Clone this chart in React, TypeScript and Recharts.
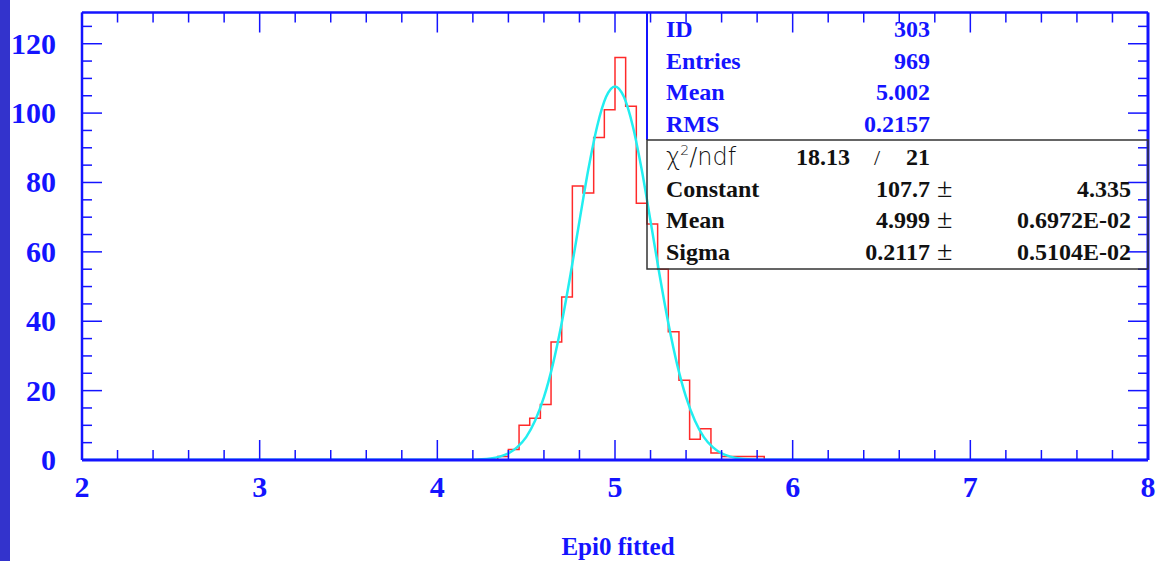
import React from "react";
import { ComposedChart, Line, XAxis, YAxis } from "recharts";

// axis ticks
const xTicks = [
  2, 2.2, 2.4, 2.6, 2.8, 3, 3.2, 3.4, 3.6, 3.8, 4, 4.2, 4.4, 4.6, 4.8, 5,
  5.2, 5.4, 5.6, 5.8, 6, 6.2, 6.4, 6.6, 6.8, 7, 7.2, 7.4, 7.6, 7.8, 8,
];
const yTicks = [
  0, 5, 10, 15, 20, 25, 30, 35, 40, 45, 50, 55, 60, 65, 70, 75, 80, 85, 90,
  95, 100, 105, 110, 115, 120, 125,
];
const yLabels = [0, 20, 40, 60, 80, 100, 120];

// histogram: lower bin edges (last entry is the upper edge of the last bin)
const binEdges = [
  4.34, 4.4, 4.46, 4.52, 4.58, 4.64, 4.7, 4.76, 4.82, 4.88, 4.94, 5.0, 5.06,
  5.12, 5.18, 5.24, 5.3, 5.36, 5.42, 5.48, 5.54, 5.6, 5.66, 5.72, 5.78, 5.84,
];
const binCounts = [
  1, 3, 10, 12, 16, 34, 47, 79, 77, 93, 101, 116, 102, 74, 68, 55, 37, 23, 6,
  9, 2, 1, 1, 1, 1,
];

// gaussian fit curve
const fitX = [
  2, 4.2, 4.25, 4.3, 4.35, 4.4, 4.45, 4.5, 4.55, 4.6, 4.65, 4.7, 4.75, 4.8,
  4.85, 4.9, 4.95, 5.0, 5.05, 5.1, 5.15, 5.2, 5.25, 5.3, 5.35, 5.4, 5.45, 5.5,
  5.55, 5.6, 5.65, 5.7, 5.75, 5.8, 8,
];
const fitY = [
  0, 0.1, 0.2, 0.46, 0.97, 1.9, 3.7, 6.6, 11.3, 18.1, 27.5, 39.5, 53.6, 68.9,
  83.8, 96.3, 104.7, 107.7, 104.7, 96.3, 83.8, 68.9, 53.6, 39.5, 27.5, 18.1,
  11.3, 6.6, 3.7, 1.9, 0.97, 0.46, 0.2, 0.1, 0,
];

// stats box
const statNames = ["ID", "Entries", "Mean", "RMS"];
const statValues = ["303", "969", "5.002", "0.2157"];
const chiNdf = ["18.13", "21"];
const fitNames = ["Constant", "Mean", "Sigma"];
const fitValues = ["107.7", "4.999", "0.2117"];
const fitErrors = ["4.335", "0.6972E-02", "0.5104E-02"];

const histData = binEdges.map((x, i) => ({ x, count: i < binCounts.length ? binCounts[i] : 0 }));
histData.unshift({ x: 2, count: 0 });
histData.push({ x: 8, count: 0 });
const fitData = fitX.map((x, i) => ({ x, y: fitY[i] }));

const BLUE = "#1414ff";
const SERIF = "'Liberation Serif', 'Times New Roman', serif";

function BottomTick({ x, y, payload }: any) {
  const major = Number.isInteger(payload.value);
  return (
    <g>
      <line x1={x} x2={x} y1={y} y2={y - (major ? 20 : 10)} stroke={BLUE} strokeWidth={1.5} />
      {major && (
        <text x={x} y={y + 37} textAnchor="middle" fill={BLUE} fontFamily={SERIF} fontWeight="bold" fontSize={30}>
          {payload.value}
        </text>
      )}
    </g>
  );
}

function TopTick({ x, y, payload }: any) {
  const major = Number.isInteger(payload.value);
  return <line x1={x} x2={x} y1={y} y2={y + (major ? 20 : 10)} stroke={BLUE} strokeWidth={1.5} />;
}

function LeftTick({ x, y, payload }: any) {
  const major = payload.value % 20 === 0;
  return (
    <g>
      <line x1={x} x2={x + (major ? 20 : 10)} y1={y} y2={y} stroke={BLUE} strokeWidth={1.5} />
      {yLabels.includes(payload.value) && (
        <text x={x - 26} y={y + 10} textAnchor="end" fill={BLUE} fontFamily={SERIF} fontWeight="bold" fontSize={30}>
          {payload.value}
        </text>
      )}
    </g>
  );
}

function RightTick({ x, y, payload }: any) {
  const major = payload.value % 20 === 0;
  return <line x1={x} x2={x - (major ? 20 : 10)} y1={y} y2={y} stroke={BLUE} strokeWidth={1.5} />;
}

function StatsBox() {
  const rowY = [37, 68.5, 100, 131.5];
  const fitRowY = [196.7, 228, 259.5];
  const txt = { fontFamily: SERIF, fontWeight: "bold" as const, fontSize: 24 };
  return (
    <svg width={1158} height={561} style={{ position: "absolute", left: 0, top: 0, pointerEvents: "none" }}>
      <line x1={647} x2={647} y1={12} y2={140} stroke={BLUE} strokeWidth={2} />
      <rect x={647} y={140} width={501} height={129} fill="none" stroke="#333" strokeWidth={1.5} />
      {statNames.map((n, i) => (
        <g key={n}>
          <text x={666} y={rowY[i]} fill={BLUE} {...txt}>{n}</text>
          <text x={930} y={rowY[i]} fill={BLUE} textAnchor="end" {...txt}>{statValues[i]}</text>
        </g>
      ))}
      <text x={666} y={165} fill="#111" fontFamily="'DejaVu Sans', sans-serif" fontWeight="300" fontSize={24}>
        χ<tspan fontSize={14} dy={-10}>2</tspan>
        <tspan dy={10}>/ndf</tspan>
      </text>
      <text x={850} y={165} fill="#111" textAnchor="end" {...txt}>{chiNdf[0]}</text>
      <text x={877} y={165} fill="#111" textAnchor="middle" fontFamily={SERIF} fontSize={22}>/</text>
      <text x={930} y={165} fill="#111" textAnchor="end" {...txt}>{chiNdf[1]}</text>
      {fitNames.map((n, i) => (
        <g key={n}>
          <text x={666} y={fitRowY[i]} fill="#111" {...txt}>{n}</text>
          <text x={930} y={fitRowY[i]} fill="#111" textAnchor="end" {...txt}>{fitValues[i]}</text>
          <text x={937} y={fitRowY[i]} fill="#111" fontFamily={SERIF} fontSize={28}>±</text>
          <text x={1131} y={fitRowY[i]} fill="#111" textAnchor="end" {...txt}>{fitErrors[i]}</text>
        </g>
      ))}
    </svg>
  );
}

export default function App() {
  return (
    <div style={{ position: "absolute", left: 0, top: 0, width: 1158, height: 561, background: "#fff", overflow: "hidden" }}>
      <div style={{ position: "absolute", left: 0, top: 0, width: 10, height: 561, background: "#3333cc" }} />
      <ComposedChart width={1158} height={561} margin={{ top: 11.5, right: 9, bottom: 100, left: 81 }}>
        <XAxis
          xAxisId="bottom"
          dataKey="x"
          type="number"
          domain={[2, 8]}
          allowDataOverflow
          ticks={xTicks}
          interval={0}
          height={1}
          tickSize={0}
          tickMargin={0}
          tick={(p: any) => <BottomTick {...p} />}
          axisLine={{ stroke: BLUE, strokeWidth: 3 }}
        />
        <XAxis
          xAxisId="top"
          orientation="top"
          dataKey="x"
          type="number"
          domain={[2, 8]}
          allowDataOverflow
          ticks={xTicks}
          interval={0}
          height={1}
          tickSize={0}
          tickMargin={0}
          tick={(p: any) => <TopTick {...p} />}
          axisLine={{ stroke: BLUE, strokeWidth: 2.5 }}
        />
        <YAxis
          yAxisId="left"
          type="number"
          domain={[0, 129]}
          allowDataOverflow
          ticks={yTicks}
          interval={0}
          width={1}
          tickSize={0}
          tickMargin={0}
          tick={(p: any) => <LeftTick {...p} />}
          axisLine={{ stroke: BLUE, strokeWidth: 2.5 }}
        />
        <YAxis
          yAxisId="right"
          orientation="right"
          type="number"
          domain={[0, 129]}
          allowDataOverflow
          ticks={yTicks}
          interval={0}
          width={1}
          tickSize={0}
          tickMargin={0}
          tick={(p: any) => <RightTick {...p} />}
          axisLine={{ stroke: BLUE, strokeWidth: 3 }}
        />
        <Line
          xAxisId="bottom"
          yAxisId="left"
          data={histData}
          dataKey="count"
          type="stepAfter"
          stroke="#ff2a2a"
          strokeWidth={1.5}
          dot={false}
          isAnimationActive={false}
        />
        <Line
          xAxisId="bottom"
          yAxisId="left"
          data={fitData}
          dataKey="y"
          type="monotone"
          stroke="#22eef0"
          strokeWidth={2.5}
          dot={false}
          isAnimationActive={false}
        />
      </ComposedChart>
      <StatsBox />
      <div
        style={{
          position: "absolute",
          left: 518,
          top: 532,
          width: 200,
          textAlign: "center",
          fontFamily: SERIF,
          fontWeight: "bold",
          fontSize: 25,
          color: BLUE,
          lineHeight: "30px",
        }}
      >
        Epi0 fitted
      </div>
    </div>
  );
}
